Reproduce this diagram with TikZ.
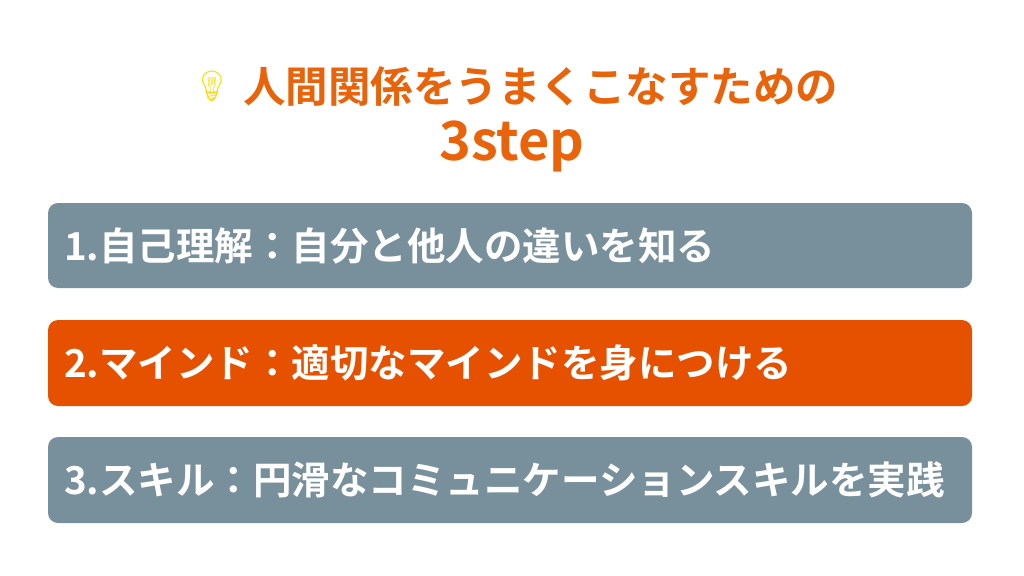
\documentclass[tikz,border=0pt]{standalone}
\usepackage{fontspec}
\newfontfamily\jp{Noto Sans CJK JP}[BoldFont={* Bold}]
\newfontfamily\emo{Noto Emoji}
\definecolor{grayb}{HTML}{78909C}
\definecolor{orangeb}{HTML}{E65100}
\definecolor{titleo}{HTML}{E8630A}
\tikzset{stepbox/.style={fill=#1,rounded corners=10pt,draw=none},
  steptext/.style={anchor=west,text=white,font=\jp\bfseries\fontsize{38.5}{38.5}\selectfont,inner sep=0pt}}
\begin{document}
\begin{tikzpicture}[x=1pt,y=-1pt]
\useasboundingbox (0,0) rectangle (1024,575);
\node[font=\emo\fontsize{30}{30}\selectfont,text=yellow!80!orange] (bulb) at (212,86) {💡};
\node[anchor=west,inner sep=0pt,text=titleo,font=\jp\bfseries\fontsize{42.5}{42.5}\selectfont] (t1) at (243,86) {人間関係をうまくこなすための};
\node[inner sep=0pt,text=titleo,font=\jp\bfseries\fontsize{54}{54}\selectfont] (t2) at (512,146) {3step};
\fill[stepbox=grayb] (48,203) rectangle (972,288);
\fill[stepbox=orangeb] (48,320) rectangle (972,406);
\fill[stepbox=grayb] (48,437) rectangle (972,523);
\node[steptext] (s1) at (64,246) {1.自己理解：自分と他人の違いを知る};
\node[steptext] (s2) at (64,363) {2.マインド：適切なマインドを身につける};
\node[steptext] (s3) at (64,480) {3.スキル：円滑なコミュニケーションスキルを実践};
\end{tikzpicture}
\end{document}
